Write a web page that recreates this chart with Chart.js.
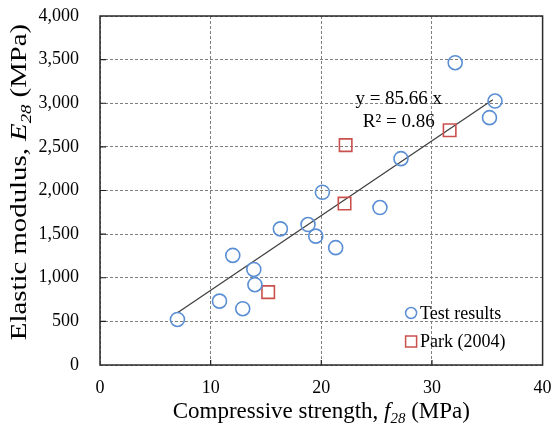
<!DOCTYPE html>
<html>
<head>
<meta charset="utf-8">
<script src="https://cdn.jsdelivr.net/npm/chart.js@4.4.0/dist/chart.umd.min.js"></script>
<style>
html, body { margin: 0; padding: 0; background: #fff; }
#wrap { width: 553px; height: 427px; position: relative; }
</style>
</head>
<body>
<div id="wrap"><canvas id="modulusChart"></canvas></div>
<script>
// test results (circles)
const testStrength = [32.1, 35.7, 35.2, 27.2, 20.1, 25.3, 18.8, 16.3, 19.5, 21.3, 12.0, 13.9, 14.0, 10.8, 12.9, 7.0];
const testModulus  = [3465, 3025, 2835, 2365, 1980, 1805, 1610, 1560, 1477, 1345, 1256, 1095, 920, 732, 645, 522];

// Park (2004) (squares)
const parkStrength = [22.2, 31.6, 22.1, 15.2];
const parkModulus  = [2520, 2690, 1850, 835];

// fitted line end points
const trendStrength = [7.0, 35.5];
const trendModulus  = [599.6, 3040.9];

const xTickLabels = ['0', '10', '20', '30', '40'];
const yTickLabels = ['0', '500', '1,000', '1,500', '2,000', '2,500', '3,000', '3,500', '4,000'];
const fitText = ['y = 85.66 x', 'R\u00b2 = 0.86'];
const seriesNames = ['Test results', 'Park (2004)'];

const SERIF = "'Liberation Serif', 'Times New Roman', serif";
const BLUE = '#5b8fd4';
const RED = '#c9504d';

function toPoints(xs, ys) {
    return xs.map((x, i) => ({ x: x, y: ys[i] }));
}

// draws text pieces (normal / italic / subscript) centred on 0
function drawRuns(ctx, runs, size) {
    const fontOf = r => (r.italic ? 'italic ' : '') + (r.sub ? size * 0.65 : size) + 'px ' + SERIF;
    let total = 0;
    const widths = runs.map(r => {
        ctx.font = fontOf(r);
        const w = ctx.measureText(r.t).width;
        total += w;
        return w;
    });
    let x = -total / 2;
    runs.forEach((r, i) => {
        ctx.font = fontOf(r);
        ctx.fillText(r.t, x, r.sub ? size * 0.22 : 0);
        x += widths[i];
    });
}

const extrasPlugin = {
    id: 'extras',
    afterDraw(chart) {
        const ctx = chart.ctx;
        const a = chart.chartArea;
        const xs = chart.scales.x;
        const ys = chart.scales.y;
        ctx.save();

        // inward tick marks
        ctx.strokeStyle = '#222';
        ctx.lineWidth = 1.2;
        ctx.beginPath();
        for (let v = 500; v < 4000; v += 500) {
            const py = ys.getPixelForValue(v);
            ctx.moveTo(a.left, py);
            ctx.lineTo(a.left + 6, py);
        }
        for (let v = 10; v < 40; v += 10) {
            const px = xs.getPixelForValue(v);
            ctx.moveTo(px, a.bottom);
            ctx.lineTo(px, a.bottom - 5);
        }
        ctx.stroke();

        // frame
        ctx.strokeStyle = '#2a2a2a';
        ctx.lineWidth = 1.5;
        ctx.strokeRect(a.left, a.top, a.right - a.left, a.bottom - a.top);

        ctx.fillStyle = '#000';
        ctx.textBaseline = 'alphabetic';
        ctx.textAlign = 'left';

        // x title
        ctx.save();
        ctx.translate((a.left + a.right) / 2, 418);
        drawRuns(ctx, [
            { t: 'Compressive strength, ' },
            { t: 'f', italic: true },
            { t: '28', italic: true, sub: true },
            { t: ' (MPa)' }
        ], 23);
        ctx.restore();

        // y title
        ctx.save();
        ctx.translate(26, 182);
        ctx.rotate(-Math.PI / 2);
        ctx.scale(1.2, 1);
        drawRuns(ctx, [
            { t: 'Elastic modulus, ' },
            { t: 'E', italic: true },
            { t: '28', italic: true, sub: true },
            { t: ' (MPa)' }
        ], 24);
        ctx.restore();

        // fit equation
        ctx.font = '19px ' + SERIF;
        ctx.textAlign = 'center';
        ctx.textBaseline = 'middle';
        const ex = xs.getPixelForValue(27);
        ctx.fillText(fitText[0], ex, ys.getPixelForValue(3045));
        ctx.fillText(fitText[1], ex, ys.getPixelForValue(2785));

        // legend
        const lx = a.right - 131.5;
        const ly = [a.bottom - 52, a.bottom - 23.5];
        ctx.lineWidth = 1.5;
        ctx.strokeStyle = BLUE;
        ctx.beginPath();
        ctx.arc(lx, ly[0], 5.5, 0, Math.PI * 2);
        ctx.stroke();
        ctx.strokeStyle = RED;
        ctx.strokeRect(lx - 5.5, ly[1] - 5.5, 11, 11);
        ctx.font = '18px ' + SERIF;
        ctx.textAlign = 'left';
        ctx.fillText(seriesNames[0], lx + 9, ly[0] + 1);
        ctx.fillText(seriesNames[1], lx + 9, ly[1] + 1);

        ctx.restore();
    }
};

function initModulusChart() {
    const ctx = document.getElementById('modulusChart');
    if (!ctx) return;

    const chart = new Chart(ctx, {
        type: 'scatter',
        data: {
            datasets: [{
                label: seriesNames[0],
                data: toPoints(testStrength, testModulus),
                pointStyle: 'circle',
                pointRadius: 7,
                borderColor: BLUE,
                backgroundColor: 'rgba(0,0,0,0)',
                borderWidth: 1.6,
                order: 1
            }, {
                label: seriesNames[1],
                data: toPoints(parkStrength, parkModulus),
                pointStyle: 'rect',
                pointRadius: 8.8,
                borderColor: RED,
                backgroundColor: 'rgba(0,0,0,0)',
                borderWidth: 1.6,
                order: 1
            }, {
                label: 'fit',
                data: toPoints(trendStrength, trendModulus),
                showLine: true,
                pointRadius: 0,
                borderColor: '#404040',
                borderWidth: 1.3,
                order: 2
            }]
        },
        options: {
            responsive: true,
            maintainAspectRatio: false,
            animation: false,
            devicePixelRatio: 1,
            layout: {
                padding: { top: 16, right: 7, left: 0, bottom: 0 }
            },
            plugins: {
                legend: { display: false },
                tooltip: { enabled: false }
            },
            scales: {
                x: {
                    type: 'linear',
                    min: 0,
                    max: 40,
                    ticks: {
                        stepSize: 10,
                        padding: 12,
                        color: '#000',
                        font: { family: SERIF, size: 18 },
                        callback: (v) => xTickLabels[Math.round(v / 10)]
                    },
                    grid: {
                        color: '#7f7f7f',
                        lineWidth: 1,
                        drawTicks: false
                    },
                    border: { display: false, dash: [3, 2] },
                    afterFit: (scale) => {
                        scale.height = 62;
                        scale.paddingLeft = 0;
                        scale.paddingRight = 0;
                    }
                },
                y: {
                    type: 'linear',
                    min: 0,
                    max: 4000,
                    ticks: {
                        stepSize: 500,
                        padding: 21,
                        color: '#000',
                        font: { family: SERIF, size: 18 },
                        callback: (v) => yTickLabels[Math.round(v / 500)]
                    },
                    grid: {
                        color: '#7f7f7f',
                        lineWidth: 1,
                        drawTicks: false
                    },
                    border: { display: false, dash: [3, 2] },
                    afterFit: (scale) => {
                        scale.width = 100;
                        scale.paddingTop = 0;
                        scale.paddingBottom = 0;
                    }
                }
            }
        },
        plugins: [extrasPlugin]
    });

    window.modulusChart = chart;
}

document.addEventListener('DOMContentLoaded', function() {
    initModulusChart();
});
</script>
</body>
</html>
